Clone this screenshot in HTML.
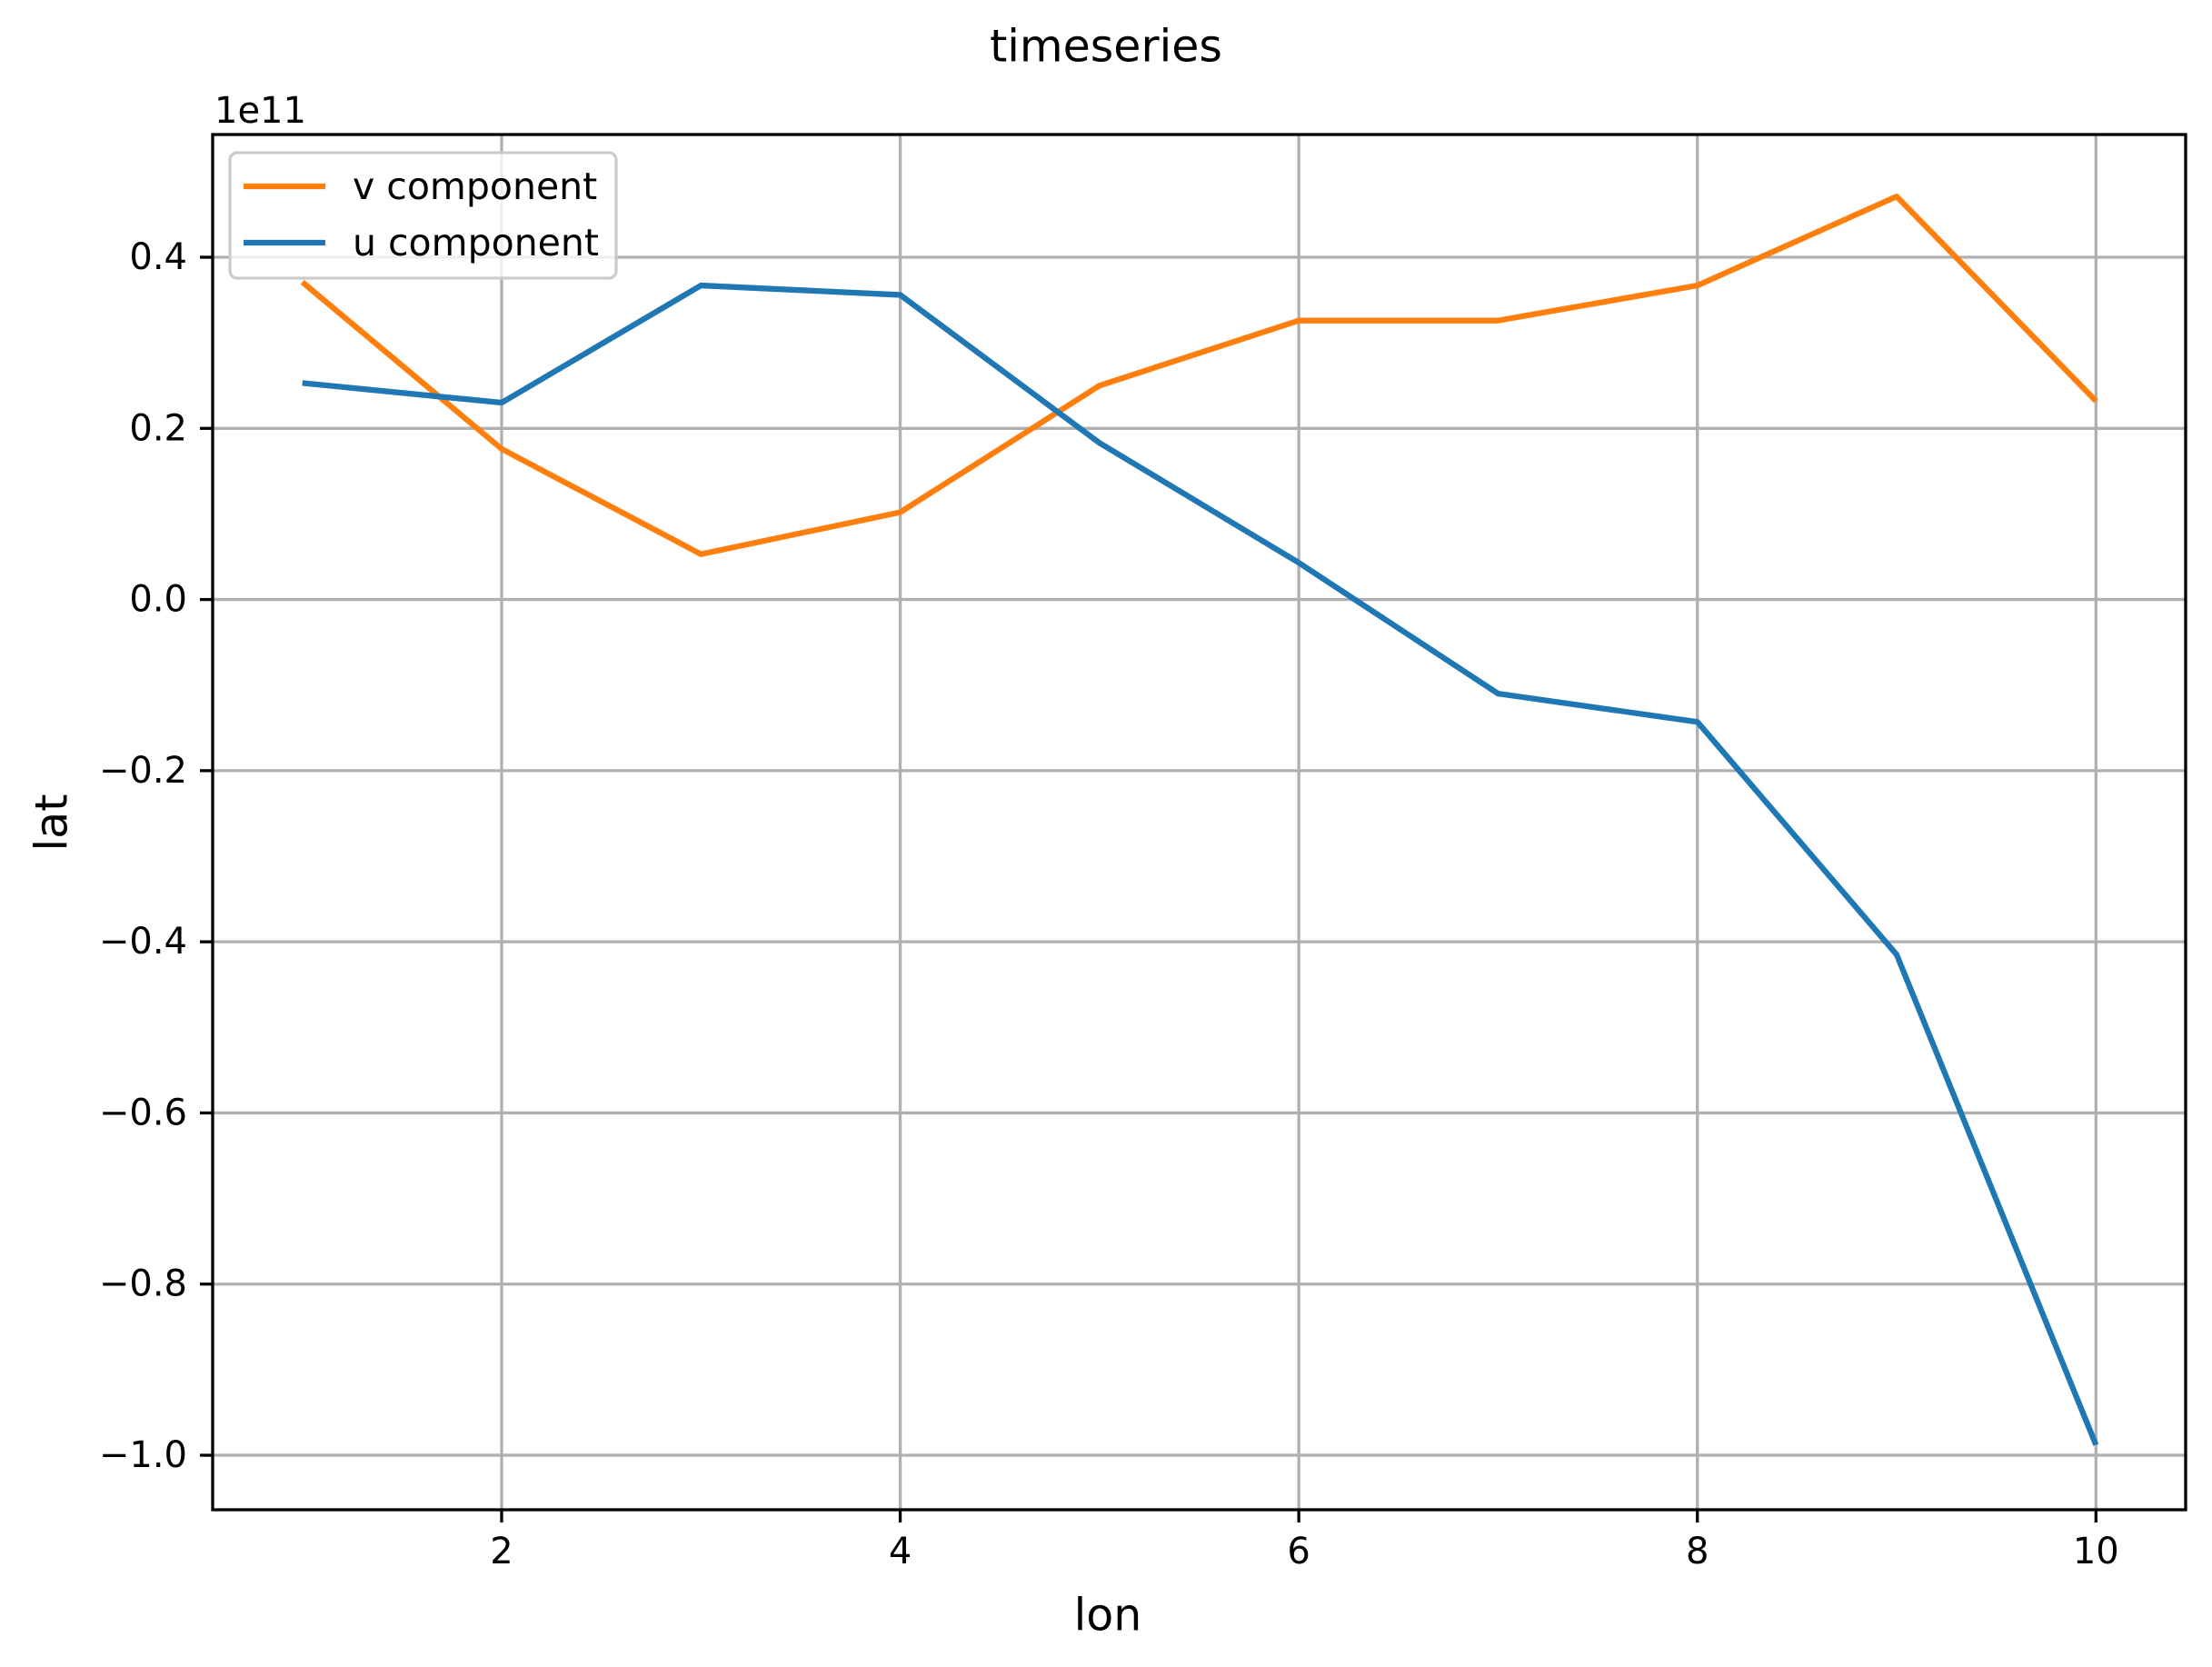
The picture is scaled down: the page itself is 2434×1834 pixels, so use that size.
<!DOCTYPE html>
<html><head><meta charset="utf-8"><style>
html,body{margin:0;padding:0;background:#fff;}
svg{display:block;font-family:"DejaVu Sans","Liberation Sans",sans-serif;}
</style></head><body>
<svg id="chart" width="2434" height="1834" viewBox="0 0 2434 1834" xmlns="http://www.w3.org/2000/svg">
<rect width="2434" height="1834" fill="#fff"/>
<text x="1217" y="51" font-size="49" text-anchor="middle" dominant-baseline="central">timeseries</text>
<g id="grid"></g>
<g id="series"></g>
<rect x="234" y="148" width="2171" height="1513" fill="none" stroke="#000" stroke-width="3.3"/>
<g id="ticks"></g>
<text x="236" y="122" font-size="40" dominant-baseline="central">1e11</text>
<text x="1219" y="1777" font-size="49" text-anchor="middle" dominant-baseline="central">lon</text>
<text x="57" y="905" font-size="49" text-anchor="middle" dominant-baseline="central" transform="rotate(-90 57 905)">lat</text>
<g>
<rect x="253" y="168" width="425" height="138" rx="8" fill="#fff" fill-opacity="0.8" stroke="#ccc" stroke-width="3.3"/>
<line x1="268" y1="205" x2="358" y2="205" stroke="#ff7f0e" stroke-width="6.3"/>
<text x="388" y="205" font-size="41" dominant-baseline="central">v component</text>
<line x1="268" y1="267" x2="358" y2="267" stroke="#1f77b4" stroke-width="6.3"/>
<text x="388" y="267" font-size="41" dominant-baseline="central">u component</text>
</g>
</svg>
<script>
const xs = [1,2,3,4,5,6,7,8,9,10];
const vValues = [0.371,0.176,0.053,0.102,0.250,0.326,0.326,0.367,0.471,0.232];
const uValues = [0.253,0.230,0.367,0.356,0.183,0.043,-0.110,-0.143,-0.415,-0.988];
const xTicks = [2,4,6,8,10];
const yTicks = [0.4,0.2,0.0,-0.2,-0.4,-0.6,-0.8,-1.0];
const yTickLabels = ["0.4","0.2","0.0","\u22120.2","\u22120.4","\u22120.6","\u22120.8","\u22121.0"];

const L=234,R=2405,T=148,B=1661;
const xMin=0.55,xMax=10.45,yMin=-1.0637,yMax=0.5434;
function X(v){return L+(v-xMin)/(xMax-xMin)*(R-L);}
function Y(v){return B-(v-yMin)/(yMax-yMin)*(B-T);}
const NS="http://www.w3.org/2000/svg";
function mk(tag,attrs,parent){const e=document.createElementNS(NS,tag);for(const k in attrs)e.setAttribute(k,attrs[k]);parent.appendChild(e);return e;}
const grid=document.getElementById('grid'),ticks=document.getElementById('ticks'),series=document.getElementById('series');
xTicks.forEach(t=>{
  const g=mk('line',{x1:X(t),x2:X(t),y1:T,y2:B,stroke:'#b0b0b0','stroke-width':3.3},grid);
  
  
  const tk=mk('line',{x1:X(t),x2:X(t),y1:B,y2:B+14,stroke:'#000','stroke-width':3.3},ticks);
  
  
  const tx=mk('text',{x:X(t),y:1707,'font-size':40,'text-anchor':'middle','dominant-baseline':'central'},ticks);
  tx.textContent=String(t);
  
  
});
yTicks.forEach((t,i)=>{
  const g=mk('line',{x1:L,x2:R,y1:Y(t),y2:Y(t),stroke:'#b0b0b0','stroke-width':3.3},grid);
  
  
  const tk=mk('line',{x1:L-14,x2:L,y1:Y(t),y2:Y(t),stroke:'#000','stroke-width':3.3},ticks);
  
  
  const tx=mk('text',{x:L-28,y:Y(t),'font-size':40,'text-anchor':'end','dominant-baseline':'central'},ticks);
  tx.textContent=yTickLabels[i];
  
  
});
function line(vals,color,name){
  const p=mk('polyline',{points:vals.map((v,i)=>X(xs[i])+','+Y(v)).join(' '),fill:'none',stroke:color,'stroke-width':6.3,'stroke-linejoin':'round'},series);
  
  
}
line(vValues,'#ff7f0e','v-component-line');
line(uValues,'#1f77b4','u-component-line');
</script>
</body></html>
